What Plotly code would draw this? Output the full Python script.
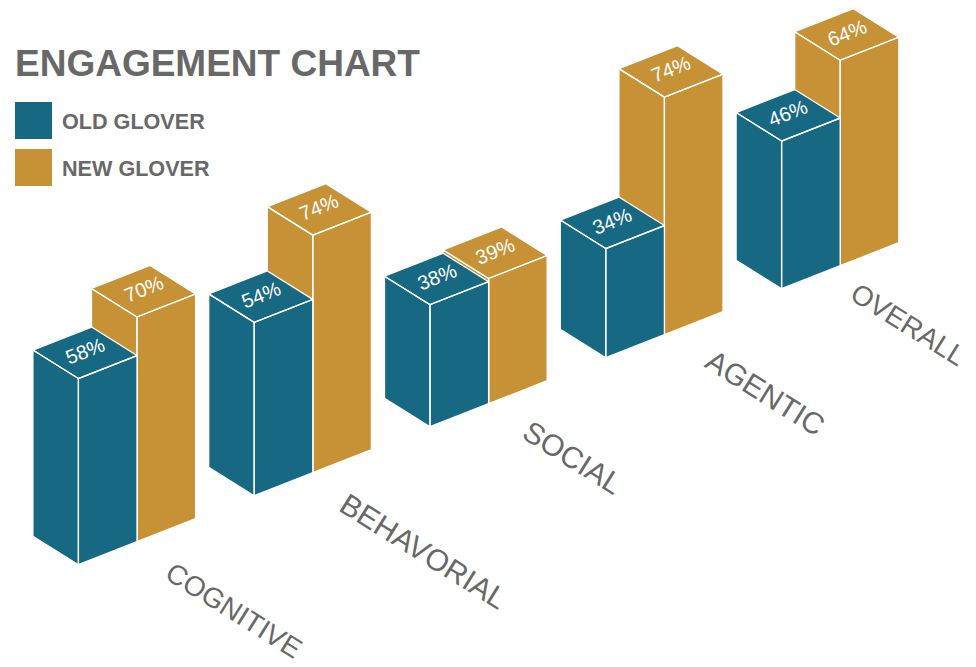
import plotly.graph_objects as go

# Engagement percentages per category
categories = ["COGNITIVE", "BEHAVORIAL", "SOCIAL", "AGENTIC", "OVERALL"]
old_glover = [58, 54, 38, 34, 46]
new_glover = [70, 74, 39, 74, 64]
series_names = ["OLD GLOVER", "NEW GLOVER"]

BLUE = "#176882"
GOLD = "#C79236"
GREY = "#686868"

# Isometric axes, in screen units
ORIGIN = (78.4, 564.7)      # front-bottom corner of the first bar
ALONG = (58.6, -23.0)       # one bar width along the category axis
DEPTH = (-45.5, -28.5)      # one bar depth
UNITS_PER_PCT = 3.21
GROUP_STEP = 3              # two bars plus one bar-width gap


def project(slot, depth, value):
    """Isometric projection of (slot along axis, depth, height in percent)."""
    x = ORIGIN[0] + slot * ALONG[0] + depth * DEPTH[0]
    y = ORIGIN[1] + slot * ALONG[1] + depth * DEPTH[1] - value * UNITS_PER_PCT
    return x, y


def bar_outline(slot, value):
    """Left, right and top faces of one bar as None-separated polygons."""
    faces = [
        [(0, 0, 0), (0, 1, 0), (0, 1, value), (0, 0, value)],
        [(0, 0, 0), (1, 0, 0), (1, 0, value), (0, 0, value)],
        [(0, 0, value), (1, 0, value), (1, 1, value), (0, 1, value)],
    ]
    xs, ys = [], []
    for face in faces:
        pts = [project(slot + a, d, v) for a, d, v in face]
        pts.append(pts[0])
        xs += [p[0] for p in pts] + [None]
        ys += [p[1] for p in pts] + [None]
    return xs, ys


fig = go.Figure()
annotations = []

for g, _ in enumerate(categories):
    # The new-series bar sits behind the old-series bar, so it goes first
    for s, values, color, name in [
        (1, new_glover, GOLD, series_names[1]),
        (0, old_glover, BLUE, series_names[0]),
    ]:
        slot = g * GROUP_STEP + s
        xs, ys = bar_outline(slot, values[g])
        fig.add_trace(go.Scatter(
            x=xs, y=ys, mode="lines", fill="toself", fillcolor=color,
            line=dict(color="white", width=1.3), name=name,
            showlegend=False, hoverinfo="text",
            text=f"{categories[g]} {name}: {values[g]}%",
        ))
        cx, cy = project(slot + 0.5, 0.5, values[g])
        annotations.append(dict(
            x=cx, y=cy - 2, text=f"{values[g]}%", showarrow=False, textangle=-21.5,
            font=dict(family="Liberation Sans", size=20, color="white"),
        ))

# Category captions run along the depth direction, in front of each group
caption_centres = [(234, 610), (424, 551), (573, 457), (765, 392), (908, 324)]
caption_sizes = [28, 30, 30, 30, 28]
for name, (cx, cy), size in zip(categories, caption_centres, caption_sizes):
    annotations.append(dict(
        x=cx, y=cy, text=name, showarrow=False, textangle=32,
        font=dict(family="Liberation Sans", size=size, color=GREY),
    ))

annotations.append(dict(
    x=13, y=63, text="<b>ENGAGEMENT CHART</b>", showarrow=False, xanchor="left",
    font=dict(family="Liberation Sans", size=37, color=GREY),
))

shapes = []
for name, color, top in [(series_names[0], BLUE, 102), (series_names[1], GOLD, 149)]:
    shapes.append(dict(type="rect", x0=15, x1=52, y0=top, y1=top + 37,
                       fillcolor=color, line=dict(width=0)))
    annotations.append(dict(
        x=60, y=top + 19, text=f"<b>{name}</b>", showarrow=False, xanchor="left",
        font=dict(family="Liberation Sans", size=21.6, color=GREY),
    ))

fig.update_layout(
    width=976, height=667, margin=dict(l=0, r=0, t=0, b=0),
    paper_bgcolor="white", plot_bgcolor="white", showlegend=False,
    xaxis=dict(range=[0, 976], visible=False, fixedrange=True),
    yaxis=dict(range=[667, 0], visible=False, fixedrange=True),
    annotations=annotations, shapes=shapes,
)

fig.write_html("out.html", config=dict(displayModeBar=False))
